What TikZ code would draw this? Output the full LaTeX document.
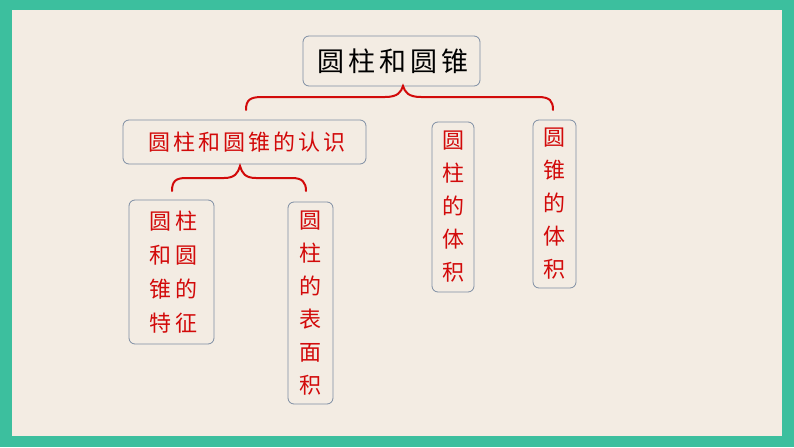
\documentclass[tikz,border=0pt]{standalone}
\usepackage{fontspec}
\newfontfamily\cjk{Noto Sans CJK SC}
\newfontfamily\cjkls[LetterSpace=14]{Noto Sans CJK SC}
\definecolor{frame}{HTML}{3CBF9E}
\definecolor{bg}{HTML}{F3ECE3}
\definecolor{bd}{HTML}{7D8DA3}
\definecolor{rd}{HTML}{D20A0A}
\tikzset{x=1pt,y=-1pt,
 box/.style={draw=bd,line width=0.8pt,rounded corners=6pt,fill=bg},
 t/.style={text=rd,font=\cjk\fontsize{20}{20}\selectfont},
 brace/.style={draw=rd,line width=2pt,line cap=round}}
\begin{document}
\begin{tikzpicture}
\fill[frame] (0,0) rectangle (794,447);
\fill[bg] (12,10) rectangle (782,436);
\path[box] (303,36) rectangle (480,86);
\node[font=\cjkls\fontsize{27}{27}\selectfont] (title) at (393,61) {圆柱和圆锥};
\path[box] (123,120) rectangle (366,164);
\node[t,font=\cjkls\fontsize{22}{22}\selectfont] (rs) at (247,142) {圆柱和圆锥的认识};
\path[box] (129,200) rectangle (214,344);
\node[t,align=center,font=\cjkls\fontsize{22}{34}\selectfont] (tz) at (173.5,272) {圆柱\\和圆\\锥的\\特征};
\path[box] (288,202) rectangle (333,404);
\node[t,align=center,font=\cjk\fontsize{22}{33}\selectfont] (bm) at (310.5,303) {圆\\柱\\的\\表\\面\\积};
\path[box] (432,122) rectangle (474,292);
\node[t,align=center,font=\cjk\fontsize{22}{33}\selectfont] (zt) at (453,207) {圆\\柱\\的\\体\\积};
\path[box] (533,120) rectangle (576,288);
\node[t,align=center,font=\cjk\fontsize{22}{33}\selectfont] (yt) at (554.5,204) {圆\\锥\\的\\体\\积};
\draw[brace] (246,110) .. controls (246,100) and (250,97) .. (262,97) -- (385,97) .. controls (398,97) and (401,92) .. (403,86) .. controls (405,92) and (408,97) .. (421,97) -- (538,97) .. controls (550,97) and (553,101) .. (553,110);
\draw[brace] (172,191) .. controls (172,181) and (176,178) .. (186,178) -- (224,178) .. controls (235,178) and (238,173) .. (240,166) .. controls (242,173) and (245,178) .. (256,178) -- (292,178) .. controls (302,178) and (306,182) .. (306,191);
\end{tikzpicture}
\end{document}
